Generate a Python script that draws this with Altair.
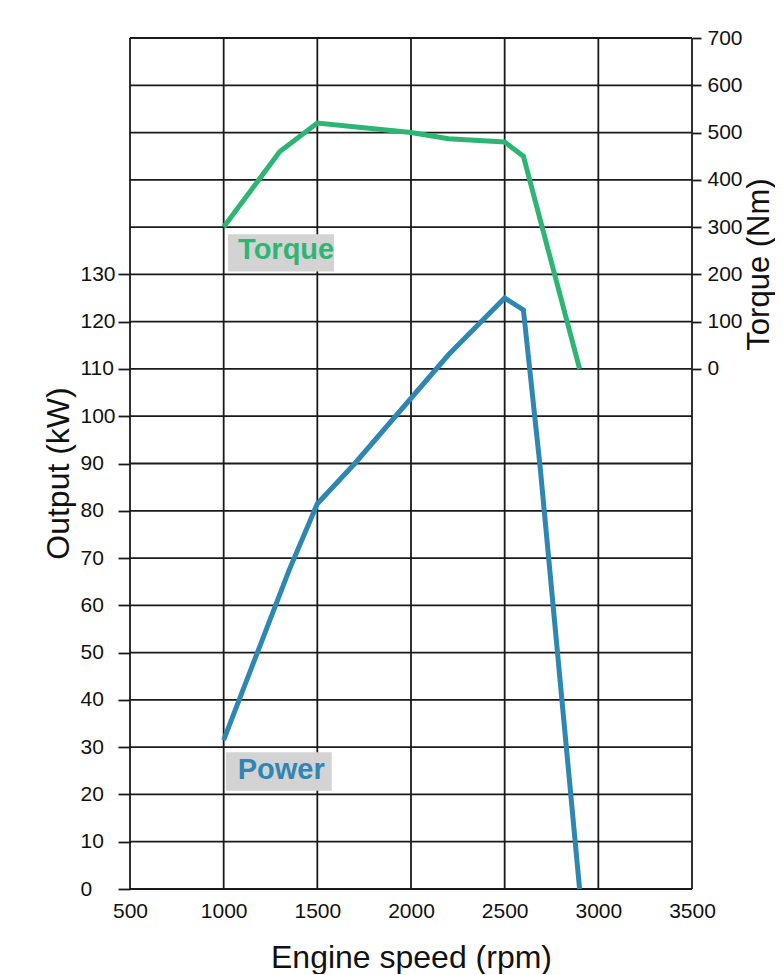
import altair as alt
import pandas as pd

# ---- data ----
rpm_power = [1000, 1350, 1500, 1700, 2200, 2500, 2600, 2690, 2900]
power_kw = [31.5, 67.5, 81.5, 90, 113, 125, 122.5, 89, 0]

rpm_torque = [1000, 1300, 1500, 2000, 2200, 2500, 2600, 2900]
torque_nm = [300, 460, 520, 500, 487, 480, 450, 0]

x_ticks = [500, 1000, 1500, 2000, 2500, 3000, 3500]
kw_ticks = [0, 10, 20, 30, 40, 50, 60, 70, 80, 90, 100, 110, 120, 130]
kw_grid = [0, 10, 20, 30, 40, 50, 60, 70, 80, 90, 100, 110, 120, 130, 140, 150, 160, 170, 180]
nm_ticks = [0, 100, 200, 300, 400, 500, 600, 700]

label_names = ["Torque", "Power"]
label_rpm = [1077, 1075]
label_kw = [133.3, 23.2]
box_rpm1 = [1023, 1012]
box_rpm2 = [1589, 1577]
box_kw1 = [130.6, 20.8]
box_kw2 = [138.5, 28.9]

GREEN = "#2db673"
BLUE = "#2e86b3"
GRID = "#1a1a1a"
FONT = "Liberation Sans"

x_scale = alt.Scale(domain=[500, 3500], nice=False, zero=False)
kw_scale = alt.Scale(domain=[0, 180], nice=False, zero=False)
nm_scale = alt.Scale(domain=[-1100, 700], nice=False, zero=False)

x_axis = alt.Axis(values=x_ticks, format="d", title="Engine speed (rpm)", grid=False, domain=False,
                  ticks=False, tickSize=0, labelPadding=11, labelFontSize=21, labelFont=FONT,
                  labelColor="#111", titleFont=FONT, titleFontSize=32, titleFontWeight="normal",
                  titleColor="#111", titleY=78, titleBaseline="alphabetic", labelFlush=False)


def xenc(field):
    return alt.X(f"{field}:Q", scale=x_scale, axis=x_axis)


df_power = pd.DataFrame({"rpm": rpm_power, "kw": power_kw})
df_torque = pd.DataFrame({"rpm": rpm_torque, "nm": torque_nm})
df_vgrid = pd.DataFrame({"rpm": x_ticks})
df_hgrid = pd.DataFrame({"kw": kw_grid})
df_labels = pd.DataFrame({"name": label_names, "rpm": label_rpm, "kw": label_kw,
                          "r1": box_rpm1, "r2": box_rpm2, "k1": box_kw1, "k2": box_kw2})

hgrid = alt.Chart(df_hgrid).mark_rule(color=GRID, strokeWidth=1.8).encode(
    y=alt.Y("kw:Q", scale=kw_scale, axis=None)
)

vgrid = alt.Chart(df_vgrid).mark_rule(color=GRID, strokeWidth=1.8).encode(
    x=xenc("rpm")
)

boxes = alt.Chart(df_labels).mark_rect(color="#d3d3d3").encode(
    x=xenc("r1"), x2="r2:Q",
    y=alt.Y("k1:Q", scale=kw_scale, axis=None), y2="k2:Q"
)

power = alt.Chart(df_power).mark_line(color=BLUE, strokeWidth=5).encode(
    x=xenc("rpm"),
    y=alt.Y("kw:Q", scale=kw_scale,
            axis=alt.Axis(orient="left", values=kw_ticks, title="Output (kW)", grid=False,
                          domain=False, tickSize=12, tickColor=GRID, tickWidth=1.8,
                          labelAlign="left", labelPadding=38, labelFontSize=21,
                          labelFont=FONT, labelColor="#111",
                          titleFont=FONT, titleFontSize=32, titleFontWeight="normal",
                          titleColor="#111", titleX=-62, titleY=435,
                          titleBaseline="alphabetic", titleAngle=270))
)

torque = alt.Chart(df_torque).mark_line(color=GREEN, strokeWidth=5).encode(
    x=xenc("rpm"),
    y=alt.Y("nm:Q", scale=nm_scale,
            axis=alt.Axis(orient="right", values=nm_ticks, title="Torque (Nm)", grid=False,
                          domain=False, tickSize=9, tickColor=GRID, tickWidth=1.8,
                          labelAlign="left", labelPadding=6, labelFontSize=21,
                          labelFont=FONT, labelColor="#111",
                          titleFont=FONT, titleFontSize=31, titleFontWeight="normal",
                          titleColor="#111", titleX=76, titleY=226,
                          titleBaseline="alphabetic", titleAngle=270))
)

texts = alt.Chart(df_labels).mark_text(align="left", baseline="alphabetic", font=FONT,
                                       fontSize=29, fontWeight="bold").encode(
    x=xenc("rpm"),
    y=alt.Y("kw:Q", scale=kw_scale, axis=None),
    text="name:N",
    color=alt.Color("name:N", scale=alt.Scale(domain=label_names, range=[GREEN, BLUE]), legend=None)
)

chart = alt.layer(hgrid, vgrid, boxes, power, torque, texts).resolve_scale(
    y="independent"
).properties(
    width=562, height=851,
    padding={"left": 122, "top": 30, "right": 83, "bottom": 85},
    autosize=alt.AutoSizeParams(type="none"),
    background="white",
).configure_view(stroke=None)

chart.save("out.html", embed_options={"renderer": "svg", "actions": False})
